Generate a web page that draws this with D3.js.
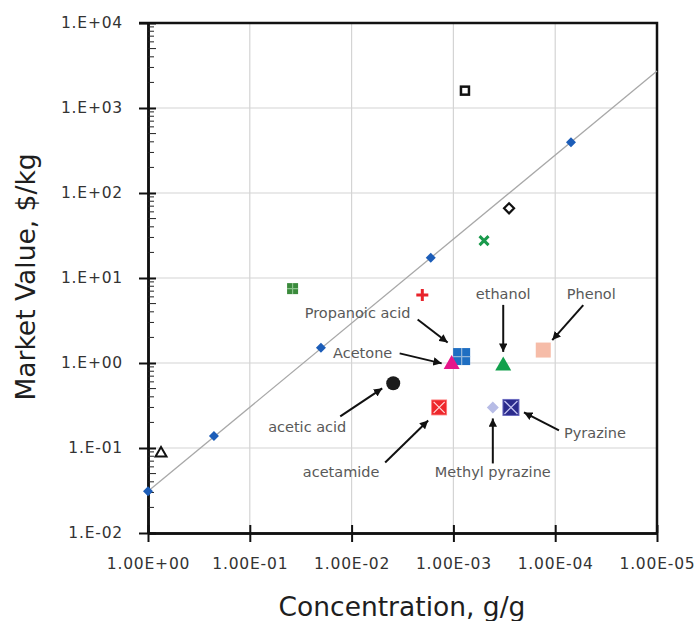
<!DOCTYPE html>
<html>
<head>
<meta charset="utf-8">
<title>Market value vs concentration</title>
<script src="https://d3js.org/d3.v7.min.js"></script>
<style>
  body{margin:0;background:#fff;}
  svg{display:block;}
  .tick text{font-family:"DejaVu Sans",sans-serif;font-size:15.5px;fill:#333;letter-spacing:0.8px;}
  .lbl{font-family:"DejaVu Sans",sans-serif;font-size:14.5px;fill:#595959;}
  .title{font-family:"DejaVu Sans",sans-serif;font-size:26.5px;fill:#1e1e1e;}
</style>
</head>
<body>
<div id="chart"></div>
<script>
// ---- data ----
var xTicks = [1, 1e-1, 1e-2, 1e-3, 1e-4, 1e-5]
var yTicks = [1e-2, 1e-1, 1, 1e1, 1e2, 1e3, 1e4]

// trend line end points
var trendX = [1, 1e-5]
var trendY = [0.031, 2720]

// blue diamonds lying on the trend line
var lineX = [1, 0.225, 0.02, 1.67e-3, 7e-5]
var lineY = [0.031, 0.138, 1.51, 17.3, 395]

// other compounds
var names = ["triangle", "greensq", "plus", "opensq", "opendiam", "greenx",
             "Phenol", "ethanol", "Propanoic acid", "Acetone", "acetic acid",
             "acetamide", "Methyl pyrazine", "Pyrazine"]
var concX = [0.745, 0.038, 2.02e-3, 7.7e-4, 2.84e-4, 5e-4,
             1.31e-4, 3.24e-4, 8.3e-4, 1.04e-3, 3.9e-3,
             1.38e-3, 4.1e-4, 2.72e-4]
var valueY = [0.088, 7.5, 6.3, 1600, 66, 27.5,
              1.42, 0.95, 1.19, 0.99, 0.577,
              0.30, 0.30, 0.30]

// ---- layout ----
var W = 699, H = 621
var pL = 148, pR = 657, pT = 23, pB = 533

var svg = d3.select("#chart").append("svg").attr("width", W).attr("height", H)

var x = d3.scaleLog().domain([1, 1e-5]).range([pL, pR])
var y = d3.scaleLog().domain([1e-2, 1e4]).range([pB, pT])

// grid
svg.append("g").selectAll("line").data(xTicks.slice(1, -1)).enter().append("line")
  .attr("x1", function(d){ return x(d) }).attr("x2", function(d){ return x(d) })
  .attr("y1", pT).attr("y2", pB)
  .attr("stroke", "#d4d4d4").attr("stroke-width", 1.2)
svg.append("g").selectAll("line").data(yTicks.slice(1, -1)).enter().append("line")
  .attr("y1", function(d){ return y(d) }).attr("y2", function(d){ return y(d) })
  .attr("x1", pL).attr("x2", pR)
  .attr("stroke", "#d4d4d4").attr("stroke-width", 1.2)

// frame (top and right)
svg.append("path")
  .attr("d", "M" + (pL - 9) + "," + pT + "H" + pR + "V" + pB)
  .attr("fill", "none").attr("stroke", "#111").attr("stroke-width", 2.5)

function expFmt(d, digits) {
  var e = Math.round(Math.log10(d))
  var s = (e < 0 ? "-" : "+") + (Math.abs(e) < 10 ? "0" : "") + Math.abs(e)
  return (digits ? "1.00E" : "1.E") + s
}

// y axis
svg.append("g").attr("transform", "translate(" + pL + ",0)")
  .call(d3.axisLeft(y).tickValues(yTicks).tickSize(9).tickSizeOuter(0).tickPadding(16)
    .tickFormat(function(d){ return expFmt(d, false) }))
svg.append("g").attr("transform", "translate(" + pL + ",0)")
  .call(d3.axisRight(y).tickValues(yTicks).tickSize(8).tickSizeOuter(0).tickFormat(""))
// y minor ticks inside
var minors = []
yTicks.slice(0, -1).forEach(function(t){ for (var k = 2; k <= 9; k++) minors.push(t * k) })
svg.append("g").selectAll("line").data(minors).enter().append("line")
  .attr("x1", pL).attr("x2", function(d, i){ return pL + ((i % 8) == 3 ? 8 : 6) })
  .attr("y1", function(d){ return y(d) }).attr("y2", function(d){ return y(d) })
  .attr("stroke", "#222").attr("stroke-width", 1)

// x axis
svg.append("g").attr("transform", "translate(0," + pB + ")")
  .call(d3.axisBottom(x).tickValues(xTicks).tickSize(9).tickSizeOuter(0).tickPadding(16)
    .tickFormat(function(d){ return expFmt(d, true) }))
svg.append("g").attr("transform", "translate(0," + pB + ")")
  .call(d3.axisTop(x).tickValues(xTicks).tickSize(8).tickSizeOuter(0).tickFormat(""))

svg.selectAll(".domain").attr("stroke", "#111").attr("stroke-width", 2.5)
svg.selectAll(".tick line").attr("stroke", "#111").attr("stroke-width", 2)

// axis titles
svg.append("text").attr("class", "title")
  .attr("x", 402).attr("y", 616).attr("text-anchor", "middle")
  .text("Concentration, g/g")
svg.append("text").attr("class", "title")
  .attr("transform", "translate(35,277) rotate(-90)").attr("text-anchor", "middle")
  .text("Market Value, $/kg")

// trend line
svg.append("line")
  .attr("x1", x(trendX[0])).attr("y1", y(trendY[0]))
  .attr("x2", x(trendX[1])).attr("y2", y(trendY[1]))
  .attr("stroke", "#a8a8a8").attr("stroke-width", 1.3)

// marker drawing
function diamond(g, r, fill, stroke, sw) {
  g.append("path").attr("d", "M0," + (-r) + "L" + r + ",0L0," + r + "L" + (-r) + ",0Z")
    .attr("fill", fill).attr("stroke", stroke || "none").attr("stroke-width", sw || 0)
}
function tri(g, w, fill, stroke, sw) {
  var h = w * 0.87
  g.append("path").attr("d", "M0," + (-h * 0.6) + "L" + (w / 2) + "," + (h * 0.4) + "L" + (-w / 2) + "," + (h * 0.4) + "Z")
    .attr("fill", fill).attr("stroke", stroke || "none").attr("stroke-width", sw || 0)
}
function square(g, s, fill, stroke, sw) {
  g.append("rect").attr("x", -s / 2).attr("y", -s / 2).attr("width", s).attr("height", s)
    .attr("fill", fill).attr("stroke", stroke || "none").attr("stroke-width", sw || 0)
}
function cross(g, r, col, sw, diag) {
  var p = diag ? "M" + (-r) + "," + (-r) + "L" + r + "," + r + "M" + r + "," + (-r) + "L" + (-r) + "," + r
               : "M" + (-r) + ",0L" + r + ",0M0," + (-r) + "L0," + r
  g.append("path").attr("d", p).attr("stroke", col).attr("stroke-width", sw).attr("fill", "none")
}

var markerStyle = {
  "triangle": function(g){ tri(g, 11, "#fff", "#111", 2) },
  "greensq": function(g){ square(g, 11, "#3a8a3c"); cross(g, 5.5, "#8cc48c", 1.2, false) },
  "plus": function(g){ cross(g, 6, "#e8232b", 3, false) },
  "opensq": function(g){ square(g, 8, "#fff", "#111", 2.5) },
  "opendiam": function(g){ diamond(g, 5, "#fff", "#111", 2.2) },
  "greenx": function(g){ cross(g, 4.5, "#1a9a4c", 3, true) },
  "Phenol": function(g){ square(g, 15, "#f6bca8") },
  "ethanol": function(g){ tri(g, 16, "#12a04c") },
  "Propanoic acid": function(g){ square(g, 17, "#1e6ec2"); cross(g, 8.5, "#8fb4da", 1.3, false) },
  "Acetone": function(g){ tri(g, 16, "#e5168a") },
  "acetic acid": function(g){ g.append("circle").attr("r", 7).attr("fill", "#1b1b1b") },
  "acetamide": function(g){ square(g, 15, "#ee282c", "#f77", 0.8); cross(g, 5.5, "#ffd8d8", 1.2, true) },
  "Methyl pyrazine": function(g){ diamond(g, 6, "#b7bce6") },
  "Pyrazine": function(g){ square(g, 16, "#2b2b8c", "#6a6ac0", 1); cross(g, 6.5, "#c0c0f0", 1.3, true) }
}

svg.selectAll(".lineDot").data(lineX).enter().append("g").attr("class", "lineDot")
  .attr("transform", function(d, i){ return "translate(" + x(d) + "," + y(lineY[i]) + ")" })
  .each(function(){ diamond(d3.select(this), 5, "#1c5db8") })

svg.selectAll(".pt").data(names).enter().append("g").attr("class", "pt")
  .attr("transform", function(d, i){ return "translate(" + x(concX[i]) + "," + y(valueY[i]) + ")" })
  .each(function(d){ markerStyle[d](d3.select(this)) })

// annotations: text offset and arrow from/to, relative to the marker
var notes = {
  "Propanoic acid": {t: [-104, -44], a: [-44, -37, -14, -14]},
  "Acetone": {t: [-89, -10], a: [-52, -10, -10, 0]},
  "acetic acid": {t: [-86, 44], a: [-53, 33, -11, 5]},
  "acetamide": {t: [-98, 65], a: [-54, 55, -11, 13]},
  "Methyl pyrazine": {t: [0, 65], a: [0, 56, 0, 11]},
  "Pyrazine": {t: [84, 26], a: [48, 23, 13, 5]},
  "ethanol": {t: [0, -71], a: [0, -60, 0, -13]},
  "Phenol": {t: [48, -56], a: [40, -45, 9, -10]}
}

svg.append("defs").append("marker").attr("id", "head")
  .attr("viewBox", "0 0 10 10").attr("refX", 10).attr("refY", 5)
  .attr("markerWidth", 4.2).attr("markerHeight", 4.2).attr("orient", "auto")
  .attr("markerUnits", "strokeWidth")
  .append("path").attr("d", "M0,0L10,5L0,10Z").attr("fill", "#111")

names.forEach(function(n, i){
  var nt = notes[n]
  if (!nt) return
  var px = x(concX[i]), py = y(valueY[i])
  svg.append("line")
    .attr("x1", px + nt.a[0]).attr("y1", py + nt.a[1])
    .attr("x2", px + nt.a[2]).attr("y2", py + nt.a[3])
    .attr("stroke", "#111").attr("stroke-width", 2).attr("marker-end", "url(#head)")
  svg.append("text").attr("class", "lbl")
    .attr("x", px + nt.t[0]).attr("y", py + nt.t[1] + 5)
    .attr("text-anchor", "middle").text(n)
})
</script>
</body>
</html>
